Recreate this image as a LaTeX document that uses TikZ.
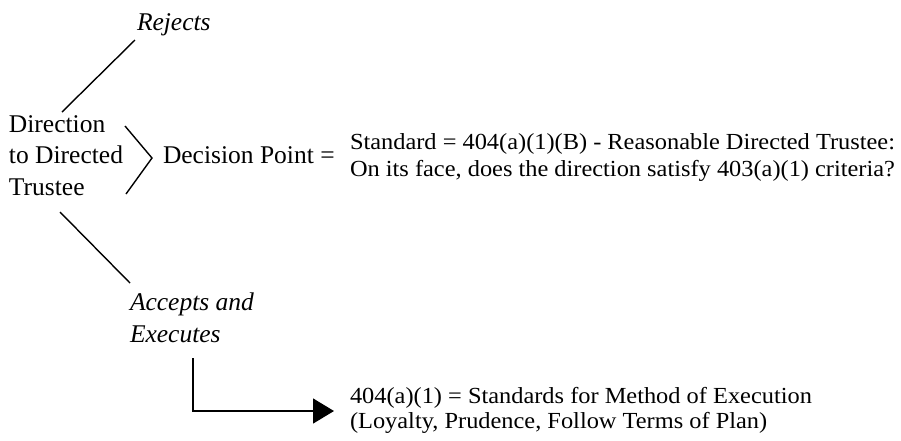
\documentclass[tikz,border=0pt]{standalone}
\usepackage{fontspec}
\setmainfont{Liberation Serif}
\newfontfamily\stdfont[FakeStretch=1.06]{Liberation Serif}
\usetikzlibrary{arrows.meta}
\tikzset{
  txt/.style={anchor=base west, inner sep=0pt, outer sep=0pt},
  bigtxt/.style={txt, font=\fontsize{25.5}{30}\selectfont},
  stdtxt/.style={txt, font=\stdfont\fontsize{23}{27}\selectfont},
  itxt/.style={txt, font=\fontsize{25.5}{30}\selectfont\itshape},
  conn/.style={draw=black, line width=1.4pt},
}
\begin{document}
\begin{tikzpicture}[x=1pt,y=-1pt]
\path[use as bounding box] (0,0) rectangle (901,440);
% texts
\node[itxt] (rej) at (137,30) {Rejects};
\node[bigtxt] (d1) at (9,132) {Direction};
\node[bigtxt] (d2) at (9,163.5) {to Directed};
\node[bigtxt] (d3) at (9,195) {Trustee};
\node[bigtxt] (dp) at (163,163.5) {Decision Point =};
\node[stdtxt] (s1) at (350,149) {Standard = 404(a)(1)(B) - Reasonable Directed Trustee:};
\node[stdtxt] (s2) at (350,176) {On its face, does the direction satisfy 403(a)(1) criteria?};
\node[itxt] (acc1) at (130,310) {Accepts and};
\node[itxt] (acc2) at (130,342) {Executes};
\node[stdtxt] (e1) at (350,403) {404(a)(1) = Standards for Method of Execution};
\node[stdtxt] (e2) at (350,428) {(Loyalty, Prudence, Follow Terms of Plan)};
% connector end points
\coordinate (rejTop) at (135,40);
\coordinate (rejBot) at (62,112);
\coordinate (angTop) at (125,126);
\coordinate (angApex) at (152,158);
\coordinate (angBot) at (126,194);
\coordinate (accTop) at (60,212);
\coordinate (accBot) at (130,283);
\coordinate (elbStart) at (193,358);
\coordinate (elbTip) at (334,411);
% connectors
\draw[conn] (rejTop) -- (rejBot);
\draw[conn] (angTop) -- (angApex) -- (angBot);
\draw[conn] (accTop) -- (accBot);
\draw[conn, -{Triangle[length=21pt,width=25pt]}] (elbStart) |- (elbTip);
\end{tikzpicture}
\end{document}
